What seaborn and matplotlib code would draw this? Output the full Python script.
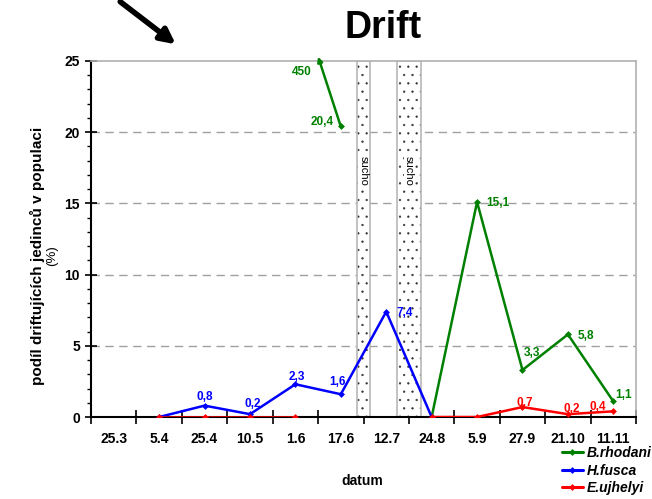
import numpy as np
import pandas as pd
import matplotlib
matplotlib.use('Agg')
import matplotlib.pyplot as plt
from matplotlib.patches import Rectangle, FancyArrowPatch
from matplotlib.lines import Line2D
import seaborn as sns

# data
dates = ['25.3', '5.4', '25.4', '10.5', '1.6', '17.6', '12.7', '24.8', '5.9', '27.9', '21.10', '11.11']
b_rhodani = [np.nan, np.nan, np.nan, np.nan, 450, 20.4, np.nan, 0, 15.1, 3.3, 5.8, 1.1]
h_fusca = [np.nan, 0, 0.8, 0.2, 2.3, 1.6, 7.4, 0, np.nan, np.nan, np.nan, np.nan]
e_ujhelyi = [np.nan, 0, 0, 0, 0, np.nan, np.nan, 0, 0, 0.7, 0.2, 0.4]
species = ['B.rhodani', 'H.fusca', 'E.ujhelyi']
colors = {'B.rhodani': '#008000', 'H.fusca': '#0000ff', 'E.ujhelyi': '#ff0000'}
y_max = 25          # osa je useknutá, 450 jen jako popisek

# období sucha (pozice mezi termíny)
drought = [(5.36, 5.65), (6.24, 6.77)]

# posuny popisků v pixelech
label_off = {
    'B.rhodani': {5: (-19, 4), 8: (21, -1), 9: (9, 17), 10: (18, -2), 11: (10, 6)},
    'H.fusca': {2: (0, 9), 3: (3, 10), 4: (1, 7), 5: (-3, 12), 6: (18, -1)},
    'E.ujhelyi': {9: (2, 4), 10: (4, 5), 11: (-16, 4)},
}

series = dict(zip(species, [b_rhodani, h_fusca, e_ujhelyi]))

# dlouhý formát, každý souvislý úsek zvlášť
rows = []
for name, vals in series.items():
    seg = 0
    for i, v in enumerate(vals):
        if np.isnan(v) or v > y_max:
            seg += 1
            continue
        rows.append({'pos': i, 'value': v, 'druh': name, 'seg': seg})
df = pd.DataFrame(rows)

sns.set_theme(style='white')
plt.rcParams['font.family'] = ['Liberation Sans', 'DejaVu Sans']
plt.rcParams['text.color'] = 'black'
plt.rcParams['xtick.color'] = 'black'
plt.rcParams['ytick.color'] = 'black'
plt.rcParams['axes.labelcolor'] = 'black'
plt.rcParams['hatch.linewidth'] = 0.4

fig = plt.figure(figsize=(6.52, 4.99), dpi=100)
ax = fig.add_axes([0.1396, 0.1643, 0.8359, 0.7135])

# šrafované pruhy "sucho"
for x0, x1 in drought:
    ax.add_patch(Rectangle((x0, 0), x1 - x0, y_max, facecolor='white', edgecolor='#333333',
                           hatch='..', linewidth=0, zorder=1))
    ax.add_patch(Rectangle((x0, 0), x1 - x0, y_max, facecolor='none', edgecolor='#b8b8b8',
                           linewidth=1.2, zorder=1.5))
    ax.text((x0 + x1) / 2, 17.3, 'sucho', rotation=270, ha='center', va='center',
            fontsize=8, zorder=2, bbox=dict(facecolor='white', edgecolor='none', pad=0.5))

for yv in [5, 10, 15, 20]:
    ax.axhline(yv, color='#a0a0a0', lw=1, ls=(0, (6, 4)), zorder=0.5)

sns.lineplot(data=df, x='pos', y='value', hue='druh', hue_order=species, palette=colors,
             units='seg', estimator=None, marker='D', markersize=3.5, markeredgewidth=0,
             linewidth=1.8, legend=False, ax=ax, zorder=3)

# popisky hodnot
for name, vals in series.items():
    for i, off in label_off[name].items():
        v = vals[i]
        ax.annotate(str(v).replace('.', ','), (i, v), xytext=off, textcoords='offset pixels',
                    ha='center', va='center', fontsize=8.5, fontweight='bold',
                    color=colors[name], zorder=4)

# hodnota mimo osu (450) - šipka nahoru
for name, vals in series.items():
    for i, v in enumerate(vals):
        if not np.isnan(v) and v > y_max:
            nxt = i + 1
            tip = (i + 0.5, y_max + 0.3)
            ax.annotate('', xy=tip, xytext=(nxt, vals[nxt]),
                        arrowprops=dict(arrowstyle='-|>', color=colors[name], lw=1.8,
                                        mutation_scale=7, shrinkA=0, shrinkB=0),
                        annotation_clip=False, zorder=3)
            ax.annotate(f'{v:g}', tip, xytext=(-16, -15), textcoords='offset pixels',
                        ha='center', va='center', fontsize=8.5, fontweight='bold',
                        color=colors[name], annotation_clip=False)

ax.set_xlim(-0.5, len(dates) - 0.5)
ax.set_ylim(0, y_max)
ax.set_xticks(np.arange(-0.5, len(dates), 1))
ax.set_xticklabels([])
ax.set_xticks(np.arange(len(dates)), minor=True)
ax.set_xticklabels(dates, minor=True, fontsize=10, fontweight='bold')
ax.tick_params(axis='x', which='major', direction='inout', length=10, width=1.2, color='black')
ax.tick_params(axis='x', which='minor', length=0, pad=11)
ax.set_yticks(np.arange(0, 26, 5))
ax.set_yticks(np.arange(0, 26, 1), minor=True)
ax.tick_params(axis='y', which='major', direction='inout', length=8, width=1.2,
               labelsize=10, color='black', pad=4)
ax.tick_params(axis='y', which='minor', direction='out', length=3, width=1, color='black')
for t in ax.get_yticklabels():
    t.set_fontweight('bold')
ax.tick_params(left=True, bottom=True, which='both')

for s in ['left', 'bottom']:
    ax.spines[s].set_color('black')
    ax.spines[s].set_linewidth(1.5)
for s in ['top', 'right']:
    ax.spines[s].set_color('#b0b0b0')
    ax.spines[s].set_linewidth(1.2)
ax.set_xlabel('')
ax.set_ylabel('')

fig.text(0.587, 0.944, 'Drift', ha='center', va='center', fontsize=27, fontweight='bold')
fig.text(362 / 652, 1 - 481 / 499, 'datum', ha='center', va='center', fontsize=10, fontweight='bold')
fig.text(37 / 652, 0.487, 'podíl driftujících jedinců v populaci', rotation=90,
         ha='center', va='center', fontsize=11, fontweight='bold')
fig.text(52 / 652, 0.487, '(%)', rotation=90, ha='center', va='center', fontsize=9.5)

# šipka vlevo nahoře
fig.add_artist(FancyArrowPatch((118 / 652, 1.0), (178 / 652, 1 - 46 / 499),
                               transform=fig.transFigure, arrowstyle='-|>',
                               mutation_scale=22, lw=4, color='black'))

handles = [Line2D([], [], color=colors[n], lw=2.2, marker='D', markersize=3.5, markeredgewidth=0)
           for n in species]
fig.legend(handles, species, loc='lower left', bbox_to_anchor=(562 / 652, 0.008), frameon=False,
           prop={'weight': 'bold', 'style': 'italic', 'size': 10}, handlelength=1.5,
           handletextpad=0.3, labelspacing=0.25, borderaxespad=0, borderpad=0)

fig.savefig('out.png', dpi=100)
